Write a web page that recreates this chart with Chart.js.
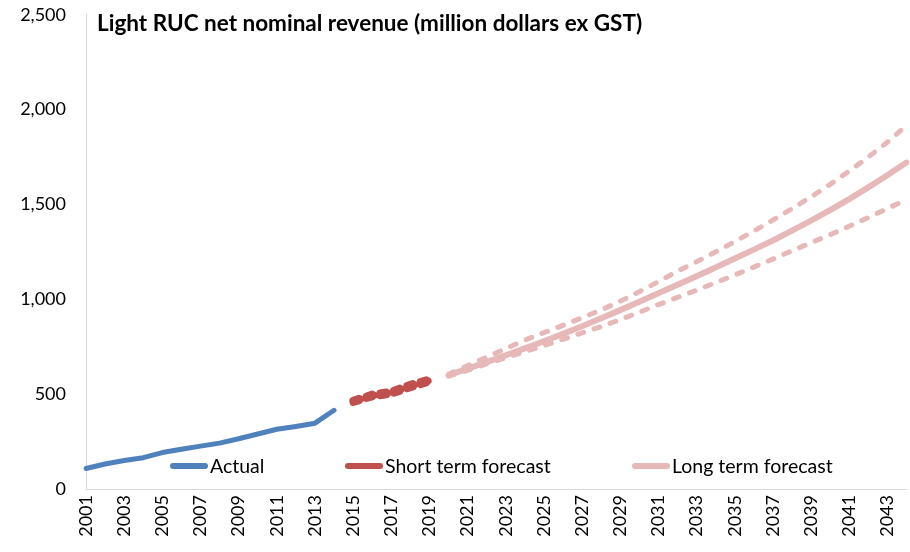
<!DOCTYPE html>
<html>
<head>
<meta charset="utf-8">
<script src="https://cdn.jsdelivr.net/npm/chart.js@4.4.1/dist/chart.umd.min.js"></script>
<style>
  html, body { margin: 0; padding: 0; background: #fff; }
  #wrap { position: relative; width: 910px; height: 552px; overflow: hidden; font-family: Lato, "Open Sans", sans-serif; }
  #revChart { position: absolute; left: 0; top: -16px; }
  #title { position: absolute; left: 97px; top: 9px; font-size: 22.5px; font-weight: bold; color: #000; white-space: nowrap; }
  .leg { position: absolute; top: 454px; font-size: 19.5px; color: #000; white-space: nowrap; display: flex; align-items: center; }
  .leg span.sw { display: inline-block; width: 38px; height: 6px; border-radius: 3px; margin-right: 2px; }
</style>
</head>
<body>
<div id="wrap">
  <canvas id="revChart" width="934" height="568"></canvas>
  <div id="title">Light RUC net nominal revenue (million dollars ex GST)</div>
  <div class="leg" style="left:170px"><span class="sw" style="background:#4F81BD"></span>Actual</div>
  <div class="leg" style="left:345px"><span class="sw" style="background:#C0504D"></span>Short term forecast</div>
  <div class="leg" style="left:632px"><span class="sw" style="background:#E6B9B8"></span>Long term forecast</div>
</div>
<script>
// Năm (trục X)
var years = [];
for (var y = 2001; y <= 2044; y++) years.push(String(y));

// Số liệu thực tế 2001-2014
var actual = [108, 132, 150, 165, 192, 210, 226, 242, 265, 290, 315, 330, 347, 415];

// Dự báo ngắn hạn 2015-2019
var shortMid = [462, 492, 508, 542, 572];
var shortHigh = [468, 500, 516, 552, 580];
var shortLow = [456, 486, 500, 534, 565];

// Dự báo dài hạn 2020-2044
var longMid = [600, 634, 669, 705, 741, 779, 818, 858, 900, 943, 987, 1032, 1077, 1122, 1168,
  1215, 1262, 1310, 1362, 1415, 1470, 1528, 1590, 1654, 1721];
var longHigh = [605, 650, 695, 740, 785, 824, 863, 903, 944, 990, 1040, 1093, 1148, 1198, 1250,
  1304, 1360, 1418, 1478, 1540, 1606, 1676, 1750, 1828, 1916];
var longLow = [595, 625, 660, 692, 724, 756, 789, 823, 856, 893, 932, 972, 1010, 1048, 1088,
  1128, 1170, 1212, 1256, 1298, 1341, 1385, 1431, 1478, 1526];

var yTicks = [0, 500, 1000, 1500, 2000, 2500];

// Đặt dữ liệu vào đúng vị trí năm
function place(values, startYear) {
  var out = years.map(function () { return null; });
  var offset = startYear - 2001;
  values.forEach(function (v, i) { out[offset + i] = v; });
  return out;
}

function line(data, color, width, dash) {
  return {
    data: data,
    borderColor: color,
    backgroundColor: color,
    borderWidth: width,
    borderDash: dash || [],
    borderCapStyle: 'round',
    borderJoinStyle: 'round',
    pointRadius: 0,
    tension: 0,
    spanGaps: false
  };
}

var ctx = document.getElementById('revChart').getContext('2d');
new Chart(ctx, {
  type: 'line',
  data: {
    labels: years,
    datasets: [
      line(place(longHigh, 2020), '#E6B9B8', 5, [6, 11]),
      line(place(longLow, 2020), '#E6B9B8', 5, [6, 11]),
      line(place(longMid, 2020), '#E6B9B8', 6),
      line(place(shortHigh, 2015), '#C0504D', 7, [6, 8]),
      line(place(shortLow, 2015), '#C0504D', 7, [6, 8]),
      line(place(shortMid, 2015), '#C0504D', 7, [8, 6]),
      line(place(actual, 2001), '#4F81BD', 5)
    ]
  },
  options: {
    responsive: false,
    animation: false,
    layout: { padding: 0 },
    plugins: { legend: { display: false }, title: { display: false }, tooltip: { enabled: false } },
    scales: {
      x: {
        offset: false,
        grid: { display: false, drawTicks: false },
        border: { color: '#D9D9D9', width: 1 },
        ticks: {
          autoSkip: false,
          minRotation: 90,
          maxRotation: 90,
          padding: 6,
          color: '#000',
          font: { family: 'Lato', size: 18 },
          callback: function (val, i) { return i % 2 === 0 ? years[i] : ''; }
        },
        afterFit: function (s) { s.height = 63; }
      },
      y: {
        min: 0,
        max: 2500,
        afterBuildTicks: function (s) { s.ticks = yTicks.map(function (v) { return { value: v }; }); },
        grid: { display: false, drawTicks: false },
        border: { color: '#D9D9D9', width: 1 },
        ticks: {
          padding: 20,
          color: '#000',
          font: { family: 'Lato', size: 18 },
          callback: function (v) { return Number(v).toLocaleString('en-US'); }
        },
        afterFit: function (s) { s.width = 86; }
      }
    }
  }
});
</script>
</body>
</html>
